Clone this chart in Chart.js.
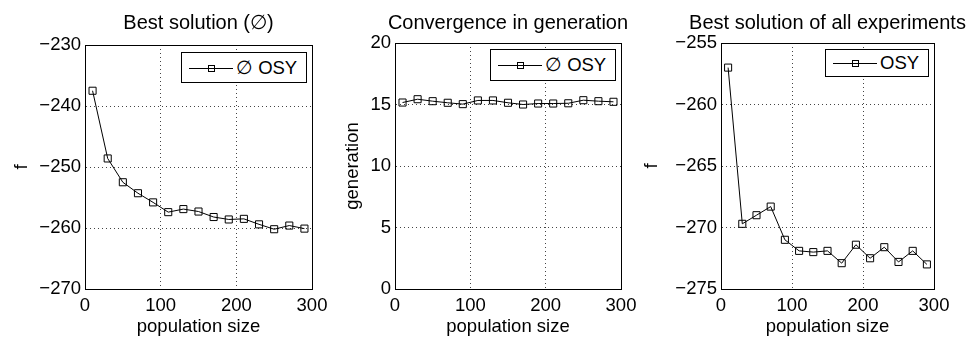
<!DOCTYPE html>
<html>
<head>
<meta charset="utf-8">
<script src="https://cdn.jsdelivr.net/npm/chart.js@4"></script>
<style>
    html, body { margin: 0; padding: 0; background: #fff; overflow: hidden; }
    body { position: relative; width: 970px; height: 338px; font-family: "Liberation Sans", Arial, Helvetica, sans-serif; }
    .panel { position: absolute; top: 0; height: 338px; }
    .legend {
        position: absolute; box-sizing: border-box; border: 1px solid #000; background: #fff;
        display: flex; align-items: center; padding: 0 9px 0 7px; font-size: 18.5px; color: #000; white-space: nowrap;
    }
    .legend svg { margin-right: 3px; }
</style>
</head>
<body>
<script>
document.addEventListener("DOMContentLoaded", () => {

    // ---------------- DATA ----------------

    const popSize = [10, 30, 50, 70, 90, 110, 130, 150, 170, 190, 210, 230, 250, 270, 290];

    const bestMean = [-237.5, -248.6, -252.5, -254.3, -255.8, -257.4, -256.9, -257.3,
                      -258.2, -258.6, -258.5, -259.4, -260.2, -259.6, -260.1];

    const convGeneration = [15.16, 15.43, 15.27, 15.14, 15.03, 15.33, 15.33, 15.14,
                            15.0, 15.08, 15.08, 15.1, 15.35, 15.27, 15.22];

    const bestAll = [-257.0, -269.7, -269.0, -268.3, -271.0, -271.9, -272.0, -271.9,
                     -272.9, -271.4, -272.5, -271.6, -272.8, -271.9, -273.0];

    const titles = ["Best solution (\u2205)", "Convergence in generation", "Best solution of all experiments"];
    const seriesLabels = ["\u2205 OSY", "\u2205 OSY", "OSY"];
    const yLabels = ["f", "generation", "f"];
    const xLabel = "population size";

    const xRange = [0, 300, 100];          // min, max, step
    const yRanges = [[-270, -230, 10], [0, 20, 5], [-275, -255, 5]];

    // ---------------- LAYOUT ----------------

    const panels = [
        { left: 0,   axisW: 85, plotRight: 312, titleGap: 10, legendTop: 7, legendH: 31 },
        { left: 331, axisW: 64, plotRight: 621, titleGap: 8,  legendTop: 6, legendH: 32 },
        { left: 630, axisW: 91, plotRight: 934, titleGap: 8,  legendTop: 6, legendH: 28 }
    ];
    const seriesValues = [bestMean, convGeneration, bestAll];

    Chart.defaults.font.family = "'Liberation Sans', Arial, Helvetica, sans-serif";
    Chart.defaults.color = "#000";

    const minusSign = value => String(value).replace("-", "\u2212");

    panels.forEach((p, k) => {

        const width = p.plotRight + p.axisW - p.left;
        const wrap = document.createElement("div");
        wrap.className = "panel";
        wrap.style.left = p.left + "px";
        wrap.style.width = width + "px";
        const canvas = document.createElement("canvas");
        canvas.width = width;
        canvas.height = 338;
        wrap.appendChild(canvas);
        document.body.appendChild(wrap);

        const [yMin, yMax, yStep] = yRanges[k];
        const dotted = () => ({ color: "#444", lineWidth: 1, drawTicks: false });
        const frame = () => ({ color: "#000", width: 1, dash: [1, 3] });

        const chart = new Chart(canvas, {
            type: "line",
            data: {
                datasets: [{
                    label: seriesLabels[k],
                    data: popSize.map((x, i) => ({ x: x, y: seriesValues[k][i] })),
                    borderColor: "#000",
                    borderWidth: 1,
                    pointStyle: "rect",
                    pointRadius: 5,
                    pointBorderWidth: 1,
                    pointBorderColor: "#000",
                    pointBackgroundColor: "rgba(0,0,0,0)",
                    tension: 0,
                    fill: false
                }]
            },
            options: {
                responsive: false,
                animation: false,
                events: [],
                layout: { padding: 0 },
                plugins: {
                    legend: { display: false },
                    tooltip: { enabled: false },
                    title: {
                        display: true,
                        text: titles[k],
                        color: "#000",
                        font: { size: 20, weight: "normal" },
                        padding: { top: 11, bottom: p.titleGap }
                    }
                },
                scales: {
                    x: {
                        type: "linear",
                        position: "bottom",
                        min: xRange[0],
                        max: xRange[1],
                        grid: dotted(),
                        border: frame(),
                        ticks: { stepSize: xRange[2], padding: 6, maxRotation: 0, font: { size: 18.5 } },
                        title: { display: true, text: xLabel, padding: 0, font: { size: 18.5 } },
                        afterFit: s => { s.height = 49; }
                    },
                    y: {
                        type: "linear",
                        position: "left",
                        min: yMin,
                        max: yMax,
                        grid: dotted(),
                        border: frame(),
                        ticks: { stepSize: yStep, padding: 4, font: { size: 18.5 }, callback: minusSign },
                        title: { display: true, text: yLabels[k], padding: { top: 11 }, font: { size: 18.5 } },
                        afterFit: s => { s.width = p.axisW; }
                    },
                    xTop: {
                        type: "linear",
                        position: "top",
                        min: xRange[0],
                        max: xRange[1],
                        grid: { display: false, drawTicks: false },
                        border: { color: "#000", width: 1 },
                        ticks: { display: false },
                        afterFit: s => { s.height = 0; }
                    },
                    yRight: {
                        type: "linear",
                        position: "right",
                        min: yMin,
                        max: yMax,
                        grid: { display: false, drawTicks: false },
                        border: { color: "#000", width: 1 },
                        ticks: { display: false },
                        afterFit: s => { s.width = p.axisW; }
                    }
                }
            }
        });

        // boxed legend in the upper right corner of the plot
        const area = chart.chartArea;
        const legend = document.createElement("div");
        legend.className = "legend";
        legend.innerHTML =
            '<svg width="44" height="10"><line x1="0" y1="5.5" x2="44" y2="5.5" stroke="#000" stroke-width="1"/>' +
            '<rect x="19.5" y="2.5" width="6" height="6" fill="none" stroke="#000" stroke-width="1"/></svg>' +
            "<span>" + chart.data.datasets[0].label + "</span>";
        legend.style.height = p.legendH + "px";
        document.body.appendChild(legend);
        legend.style.left = (p.left + area.right - 5 - legend.offsetWidth) + "px";
        legend.style.top = (area.top + p.legendTop) + "px";
    });

});
</script>
</body>
</html>
